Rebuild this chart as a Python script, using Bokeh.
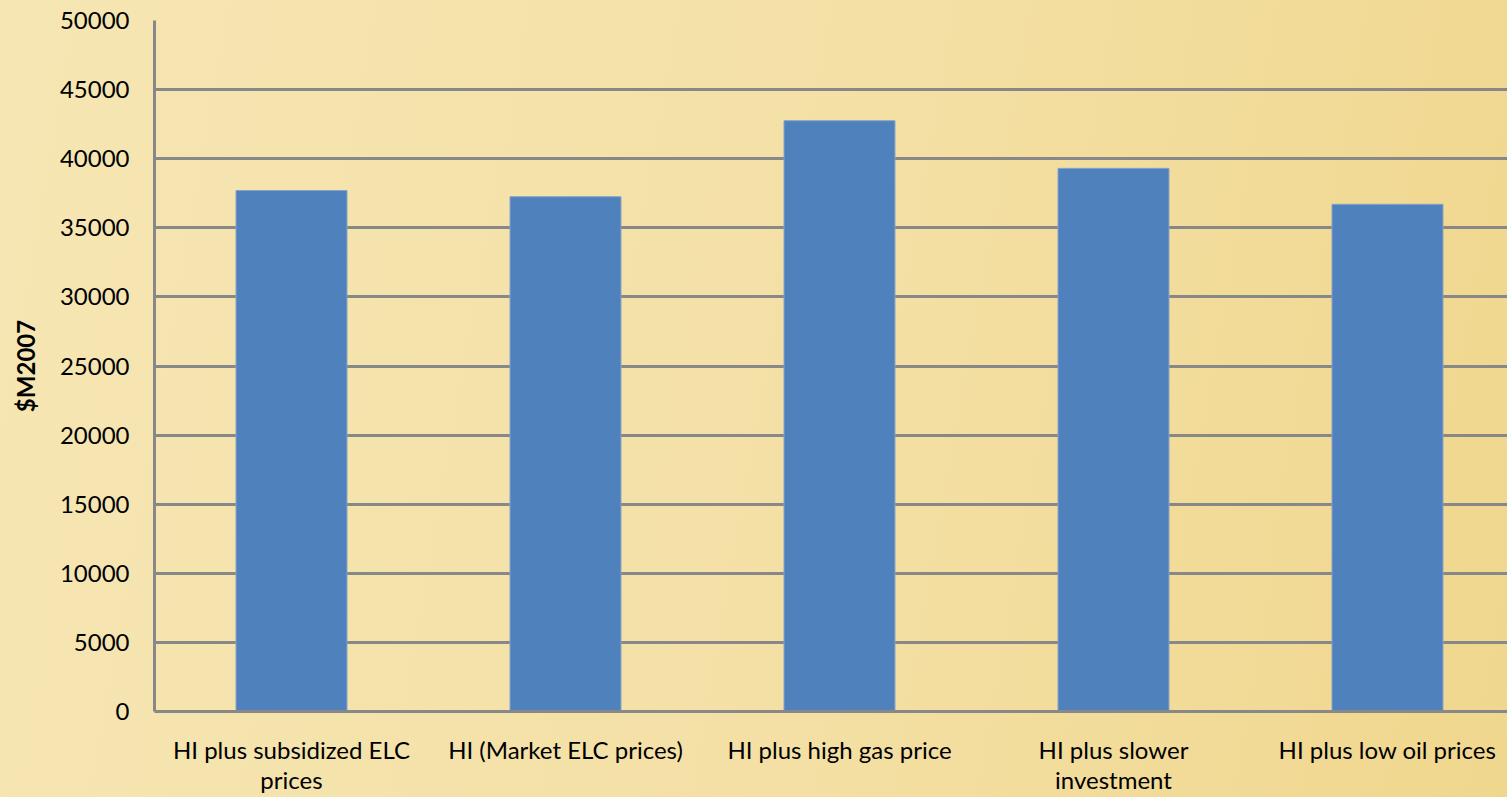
from bokeh.plotting import figure
from bokeh.models import Range1d, FixedTicker, ColumnDataSource
from bokeh.embed import file_html
from bokeh.resources import INLINE

# ---- data ----
categories = [
    "HI plus subsidized ELC\nprices",
    "HI (Market ELC prices)",
    "HI plus high gas price",
    "HI plus slower\ninvestment",
    "HI plus low oil prices",
]
values = [37700, 37250, 42750, 39300, 36700]
y_ticks = [0, 5000, 10000, 15000, 20000, 25000, 30000, 35000, 40000, 45000, 50000]
y_tick_labels = ["0", "5000", "10000", "15000", "20000", "25000", "30000",
                 "35000", "40000", "45000", "50000"]
y_axis_title = "$M2007"

positions = [i + 0.5 for i in range(len(categories))]
src = ColumnDataSource(dict(x=positions, top=values, name=categories))

p = figure(width=1507, height=797, output_backend="svg", toolbar_location=None,
           x_range=Range1d(0, 4.938), y_range=Range1d(0, 50000),
           min_border_left=154, min_border_right=0, min_border_top=20,
           min_border_bottom=86)

p.styles = {"background-image": "linear-gradient(100deg, #F6E6B3 0%, #F4E0A5 55%, #F0D78E 100%)"}
p.border_fill_color = None
p.background_fill_color = None
p.outline_line_color = None

p.vbar(x="x", top="top", width=0.405, source=src,
       fill_color="#4F81BD", line_color="#86A2C8", line_width=1)

grid_col = "#888888"
p.xgrid.visible = False
p.ygrid.grid_line_color = grid_col
p.ygrid.grid_line_width = 3
p.ygrid.ticker = FixedTicker(ticks=y_ticks)

# y axis
p.yaxis.ticker = FixedTicker(ticks=y_ticks)
p.yaxis.major_label_overrides = {t: s for t, s in zip(y_ticks, y_tick_labels)}
p.yaxis.axis_line_color = grid_col
p.yaxis.axis_line_width = 3
p.yaxis.major_tick_line_color = None
p.yaxis.minor_tick_line_color = None
p.yaxis.major_tick_out = 0
p.yaxis.major_tick_in = 0
p.yaxis.minor_tick_out = 0
p.yaxis.major_label_standoff = 25
p.yaxis.major_label_text_font = "Lato"
p.yaxis.major_label_text_font_size = "24px"
p.yaxis.major_label_text_color = "#000000"
p.yaxis.axis_label = y_axis_title
p.yaxis.axis_label_text_font = "Lato"
p.yaxis.axis_label_text_font_style = "bold"
p.yaxis.axis_label_text_font_size = "24px"
p.yaxis.axis_label_text_color = "#000000"
p.yaxis.axis_label_standoff = 17

# x axis
p.xaxis.ticker = FixedTicker(ticks=positions)
p.xaxis.major_label_overrides = {x: c for x, c in zip(positions, categories)}
p.xaxis.axis_line_color = grid_col
p.xaxis.axis_line_width = 3
p.xaxis.major_tick_line_color = None
p.xaxis.minor_tick_line_color = None
p.xaxis.major_tick_out = 0
p.xaxis.major_tick_in = 0
p.xaxis.minor_tick_out = 0
p.xaxis.major_label_standoff = 23
p.xaxis.major_label_text_font = "Lato"
p.xaxis.major_label_text_font_size = "24px"
p.xaxis.major_label_text_line_height = 1.05
p.xaxis.major_label_text_color = "#000000"

open("out.html", "w").write(file_html(p, INLINE))
